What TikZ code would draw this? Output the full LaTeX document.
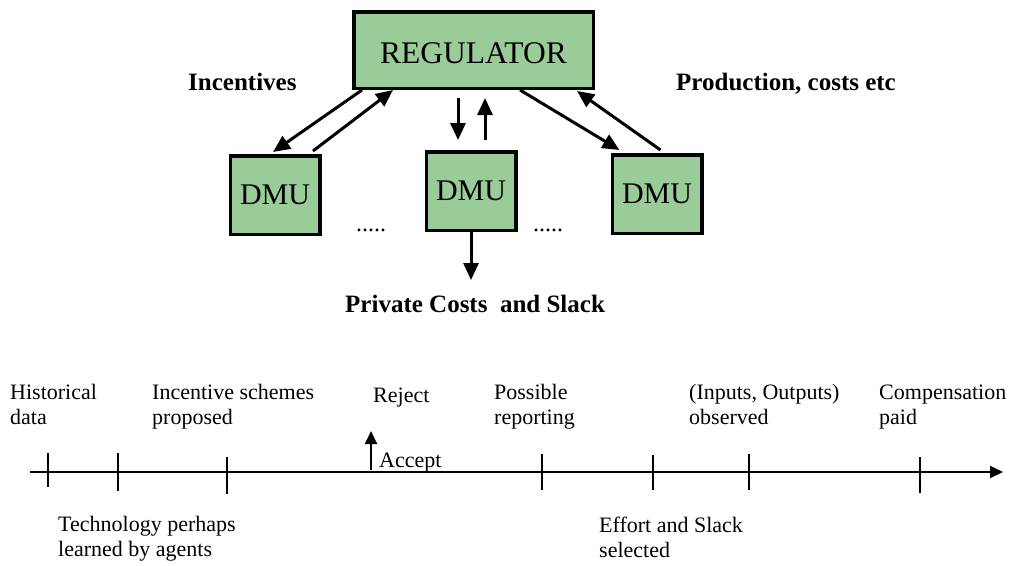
\documentclass[tikz,border=0pt]{standalone}
\usepackage{fontspec}
\setmainfont{Liberation Serif}
\usetikzlibrary{arrows.meta,calc}

\definecolor{boxgreen}{RGB}{153,204,153}

\tikzset{
  agent/.style={draw=black, fill=boxgreen, line width=3.5pt, inner sep=0pt,
                font=\fontsize{30}{34}\selectfont},
  flow/.style={line width=3pt, -{Triangle[length=17pt,width=15pt]}},
  side/.style={font=\bfseries\fontsize{25}{29}\selectfont, inner sep=0pt, anchor=base west},
  stage/.style={font=\fontsize{22}{25}\selectfont, align=left, inner sep=0pt, anchor=base west},
  dotted row/.style={font=\fontsize{24}{28}\selectfont, inner sep=0pt, anchor=base west},
  tick/.style={line width=1.8pt},
  timearrow/.style={line width=1.8pt, -{Triangle[length=13pt,width=12pt]}},
}

\begin{document}
\begin{tikzpicture}[x=1pt, y=-1pt]
\useasboundingbox (0,0) rectangle (1011,565);

% ---- regulator and the decision making units
\node[agent, minimum width=239.5pt, minimum height=76.5pt, font=\fontsize{31.5}{34}\selectfont]
  (reg) at (473.5,50) {\raisebox{-3pt}[\height][0pt]{REGULATOR}};
\node[agent, minimum width=89.5pt, minimum height=78.5pt] (d1) at (275,195) {DMU};
\node[agent, minimum width=89.5pt, minimum height=78.5pt] (d2) at (471,191) {DMU};
\node[agent, minimum width=89.5pt, minimum height=78.5pt] (d3) at (657,194) {DMU};

\node[side] (inc) at (188,90) {Incentives};
\node[side] (prod) at (676,90) {Production, costs etc};
\node[side] (priv) at (345,312) {Private Costs\ \ and Slack};

\node[dotted row] (dots1) at (356,231) {.....};
\node[dotted row] (dots2) at (533,231) {.....};

% incentives go down, reports come back up
\draw[flow] ($(reg.south west)+(10,0)$) -- ($(d1.north west)+(44.5,-2)$);
\draw[flow] ($(d1.north west)+(84.5,-3)$) -- ($(reg.south west)+(41,0)$);
\draw[flow] ($(reg.south)+(-15.5,8)$) -- ($(d2.north)+(-13,-10)$);
\draw[flow] ($(d2.north)+(14,-10)$) -- ($(reg.south)+(11.5,8)$);
\draw[flow] ($(reg.south east)+(-75,0)$) -- ($(d3.north west)+(9,-3)$);
\draw[flow] ($(d3.north west)+(50,-3)$) -- ($(reg.south east)+(-18,1)$);

\coordinate (pc) at (471,280);
\draw[flow] (d2.south) -- (pc);

% ---- time line
\coordinate (tstart) at (30,472);
\coordinate (tend) at (1003,472);
\draw[timearrow] (tstart) -- (tend);

\foreach \name/\x/\top/\bot in {t1/48/453/487, t2/118/453/491, t3/227/457/494,
    t4/542/454/490, t5/653/455/490, t6/749/454/490, t7/920/457/493}{
  \coordinate (\name a) at (\x,\top);
  \coordinate (\name b) at (\x,\bot);
  \draw[tick] (\name a) -- (\name b);
}

\coordinate (acc) at (371,470);
\coordinate (rej) at (371,431);
\draw[line width=1.8pt, -{Triangle[length=13pt,width=12pt]}] (acc) -- (rej);

% labels (a two-line label is placed by the baseline of its last line)
\node[stage] (l1) at (10,424) {Historical\\data};
\node[stage] (l2) at (152,424) {Incentive schemes\\proposed};
\node[stage] (l3) at (373,402) {Reject};
\node[stage] (l4) at (379,467) {Accept};
\node[stage] (l5) at (494,424) {Possible\\reporting};
\node[stage] (l6) at (689,424) {(Inputs, Outputs)\\observed};
\node[stage] (l7) at (879,424) {Compensation\\paid};
\node[stage] (l8) at (58,556) {Technology perhaps\\learned by agents};
\node[stage] (l9) at (599,557) {Effort and Slack\\selected};
\end{tikzpicture}
\end{document}
